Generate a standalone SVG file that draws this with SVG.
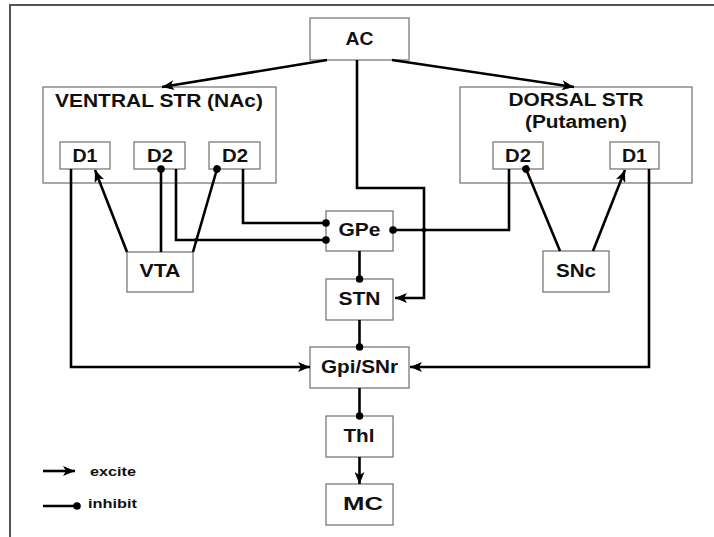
<svg xmlns="http://www.w3.org/2000/svg" width="714" height="537" viewBox="0 0 714 537">
<defs>
<style>
.box{fill:#fff;stroke:#7a7a7a;stroke-width:1.3}
.t{font-family:"Liberation Sans",Arial,sans-serif;font-weight:bold;font-size:18px;fill:#111;text-anchor:middle}
.s{font-family:"Liberation Sans",Arial,sans-serif;font-weight:bold;font-size:13px;fill:#111}
.c{fill:none;stroke:#000;stroke-width:2.6;stroke-linejoin:miter}
.dot{fill:#000}
</style>
<marker id="ah" viewBox="0 0 12 10" refX="12" refY="5" markerWidth="12" markerHeight="10" markerUnits="userSpaceOnUse" orient="auto">
<path d="M0,0 L12,5 L0,10 L3,5 Z" fill="#000"/>
</marker>
<marker id="dt" viewBox="0 0 8 8" refX="4" refY="4" markerWidth="8" markerHeight="8" markerUnits="userSpaceOnUse" orient="auto">
<circle cx="4" cy="4" r="3.8" fill="#000"/>
</marker>
</defs>
<rect width="714" height="537" fill="#fff"/>
<g id="frame" fill="none" stroke="#555" stroke-width="2">
<path d="M10,537 L10,5 L714,5"/>
</g>
<g id="AC"><rect class="box" x="310" y="18" width="99" height="42"/><text class="t" x="359.5" y="45" textLength="28" lengthAdjust="spacingAndGlyphs">AC</text></g>
<g id="VENTRAL"><rect class="box" x="43" y="87" width="233" height="96"/><text class="t" x="159" y="107" textLength="208" lengthAdjust="spacingAndGlyphs">VENTRAL STR (NAc)</text></g>
<g id="DORSAL"><rect class="box" x="460" y="87" width="232" height="96"/><text class="t" x="576" y="106" textLength="135" lengthAdjust="spacingAndGlyphs">DORSAL STR</text><text class="t" x="576" y="128" textLength="102" lengthAdjust="spacingAndGlyphs">(Putamen)</text></g>
<g id="vD1"><rect class="box" x="60" y="142" width="50" height="27"/><text class="t" x="85" y="162" textLength="25" lengthAdjust="spacingAndGlyphs">D1</text></g>
<g id="vD2a"><rect class="box" x="134" y="142" width="51" height="27"/><text class="t" x="160" y="162" textLength="26" lengthAdjust="spacingAndGlyphs">D2</text></g>
<g id="vD2b"><rect class="box" x="209" y="142" width="51" height="27"/><text class="t" x="235" y="162" textLength="26" lengthAdjust="spacingAndGlyphs">D2</text></g>
<g id="dD2"><rect class="box" x="493" y="142" width="50" height="27"/><text class="t" x="518" y="162" textLength="26" lengthAdjust="spacingAndGlyphs">D2</text></g>
<g id="dD1"><rect class="box" x="610" y="142" width="49" height="27"/><text class="t" x="634.5" y="162" textLength="25" lengthAdjust="spacingAndGlyphs">D1</text></g>
<g id="GPe"><rect class="box" x="326" y="211" width="67" height="40"/><text class="t" x="359.5" y="236" textLength="42" lengthAdjust="spacingAndGlyphs">GPe</text></g>
<g id="VTA"><rect class="box" x="127" y="252" width="66" height="40"/><text class="t" x="160" y="277" textLength="41" lengthAdjust="spacingAndGlyphs">VTA</text></g>
<g id="SNc"><rect class="box" x="543" y="251" width="66" height="41"/><text class="t" x="576" y="277" textLength="40" lengthAdjust="spacingAndGlyphs">SNc</text></g>
<g id="STN"><rect class="box" x="326" y="279" width="67" height="41"/><text class="t" x="359.5" y="305" textLength="42" lengthAdjust="spacingAndGlyphs">STN</text></g>
<g id="GpiSNr"><rect class="box" x="310" y="347" width="99" height="41"/><text class="t" x="359.5" y="373" textLength="77" lengthAdjust="spacingAndGlyphs">Gpi/SNr</text></g>
<g id="Thl"><rect class="box" x="326" y="416" width="67" height="41"/><text class="t" x="359" y="442" textLength="31" lengthAdjust="spacingAndGlyphs">Thl</text></g>
<g id="MC"><rect class="box" x="326" y="484" width="67" height="41"/><text class="t" x="363" y="510" textLength="40" lengthAdjust="spacingAndGlyphs">MC</text></g>
<g id="connectors">
<path class="c" d="M327,60 L162,87" marker-end="url(#ah)"/>
<path class="c" d="M392,60 L574,87" marker-end="url(#ah)"/>
<path class="c" d="M357,60 L357,188 L424,188 L424,298 L395,298" marker-end="url(#ah)"/>
<path class="c" d="M127,252 L95,170" marker-end="url(#ah)"/>
<path class="c" d="M161,252 L161,169" marker-end="url(#dt)"/>
<path class="c" d="M193,252 L217,169" marker-end="url(#dt)"/>
<path class="c" d="M176,169 L176,240 L326,240" marker-end="url(#dt)"/>
<path class="c" d="M243,169 L243,223 L326,223" marker-end="url(#dt)"/>
<path class="c" d="M509,169 L509,230 L393,230" marker-end="url(#dt)"/>
<path class="c" d="M560,251 L526,169" marker-end="url(#dt)"/>
<path class="c" d="M593,251 L625,170" marker-end="url(#ah)"/>
<path class="c" d="M71,169 L71,367 L310,367" marker-end="url(#ah)"/>
<path class="c" d="M649,169 L649,367 L410,367" marker-end="url(#ah)"/>
<path class="c" d="M359.5,251 L359.5,279" marker-end="url(#dt)"/>
<path class="c" d="M359.5,320 L359.5,347" marker-end="url(#dt)"/>
<path class="c" d="M359.5,388 L359.5,416" marker-end="url(#dt)"/>
<path class="c" d="M359.5,457 L359.5,484" marker-end="url(#ah)"/>
<circle class="dot" cx="424" cy="230" r="2.2"/>
<circle class="dot" cx="196" cy="240" r="2"/>
</g>
<g id="legend">
<path class="c" d="M43,471 L75,471" marker-end="url(#ah)"/>
<text class="s" x="90" y="476" textLength="46" lengthAdjust="spacingAndGlyphs">excite</text>
<path class="c" d="M43,506 L77,506" marker-end="url(#dt)"/>
<text class="s" x="88" y="508" textLength="49" lengthAdjust="spacingAndGlyphs">inhibit</text>
</g>
</svg>
